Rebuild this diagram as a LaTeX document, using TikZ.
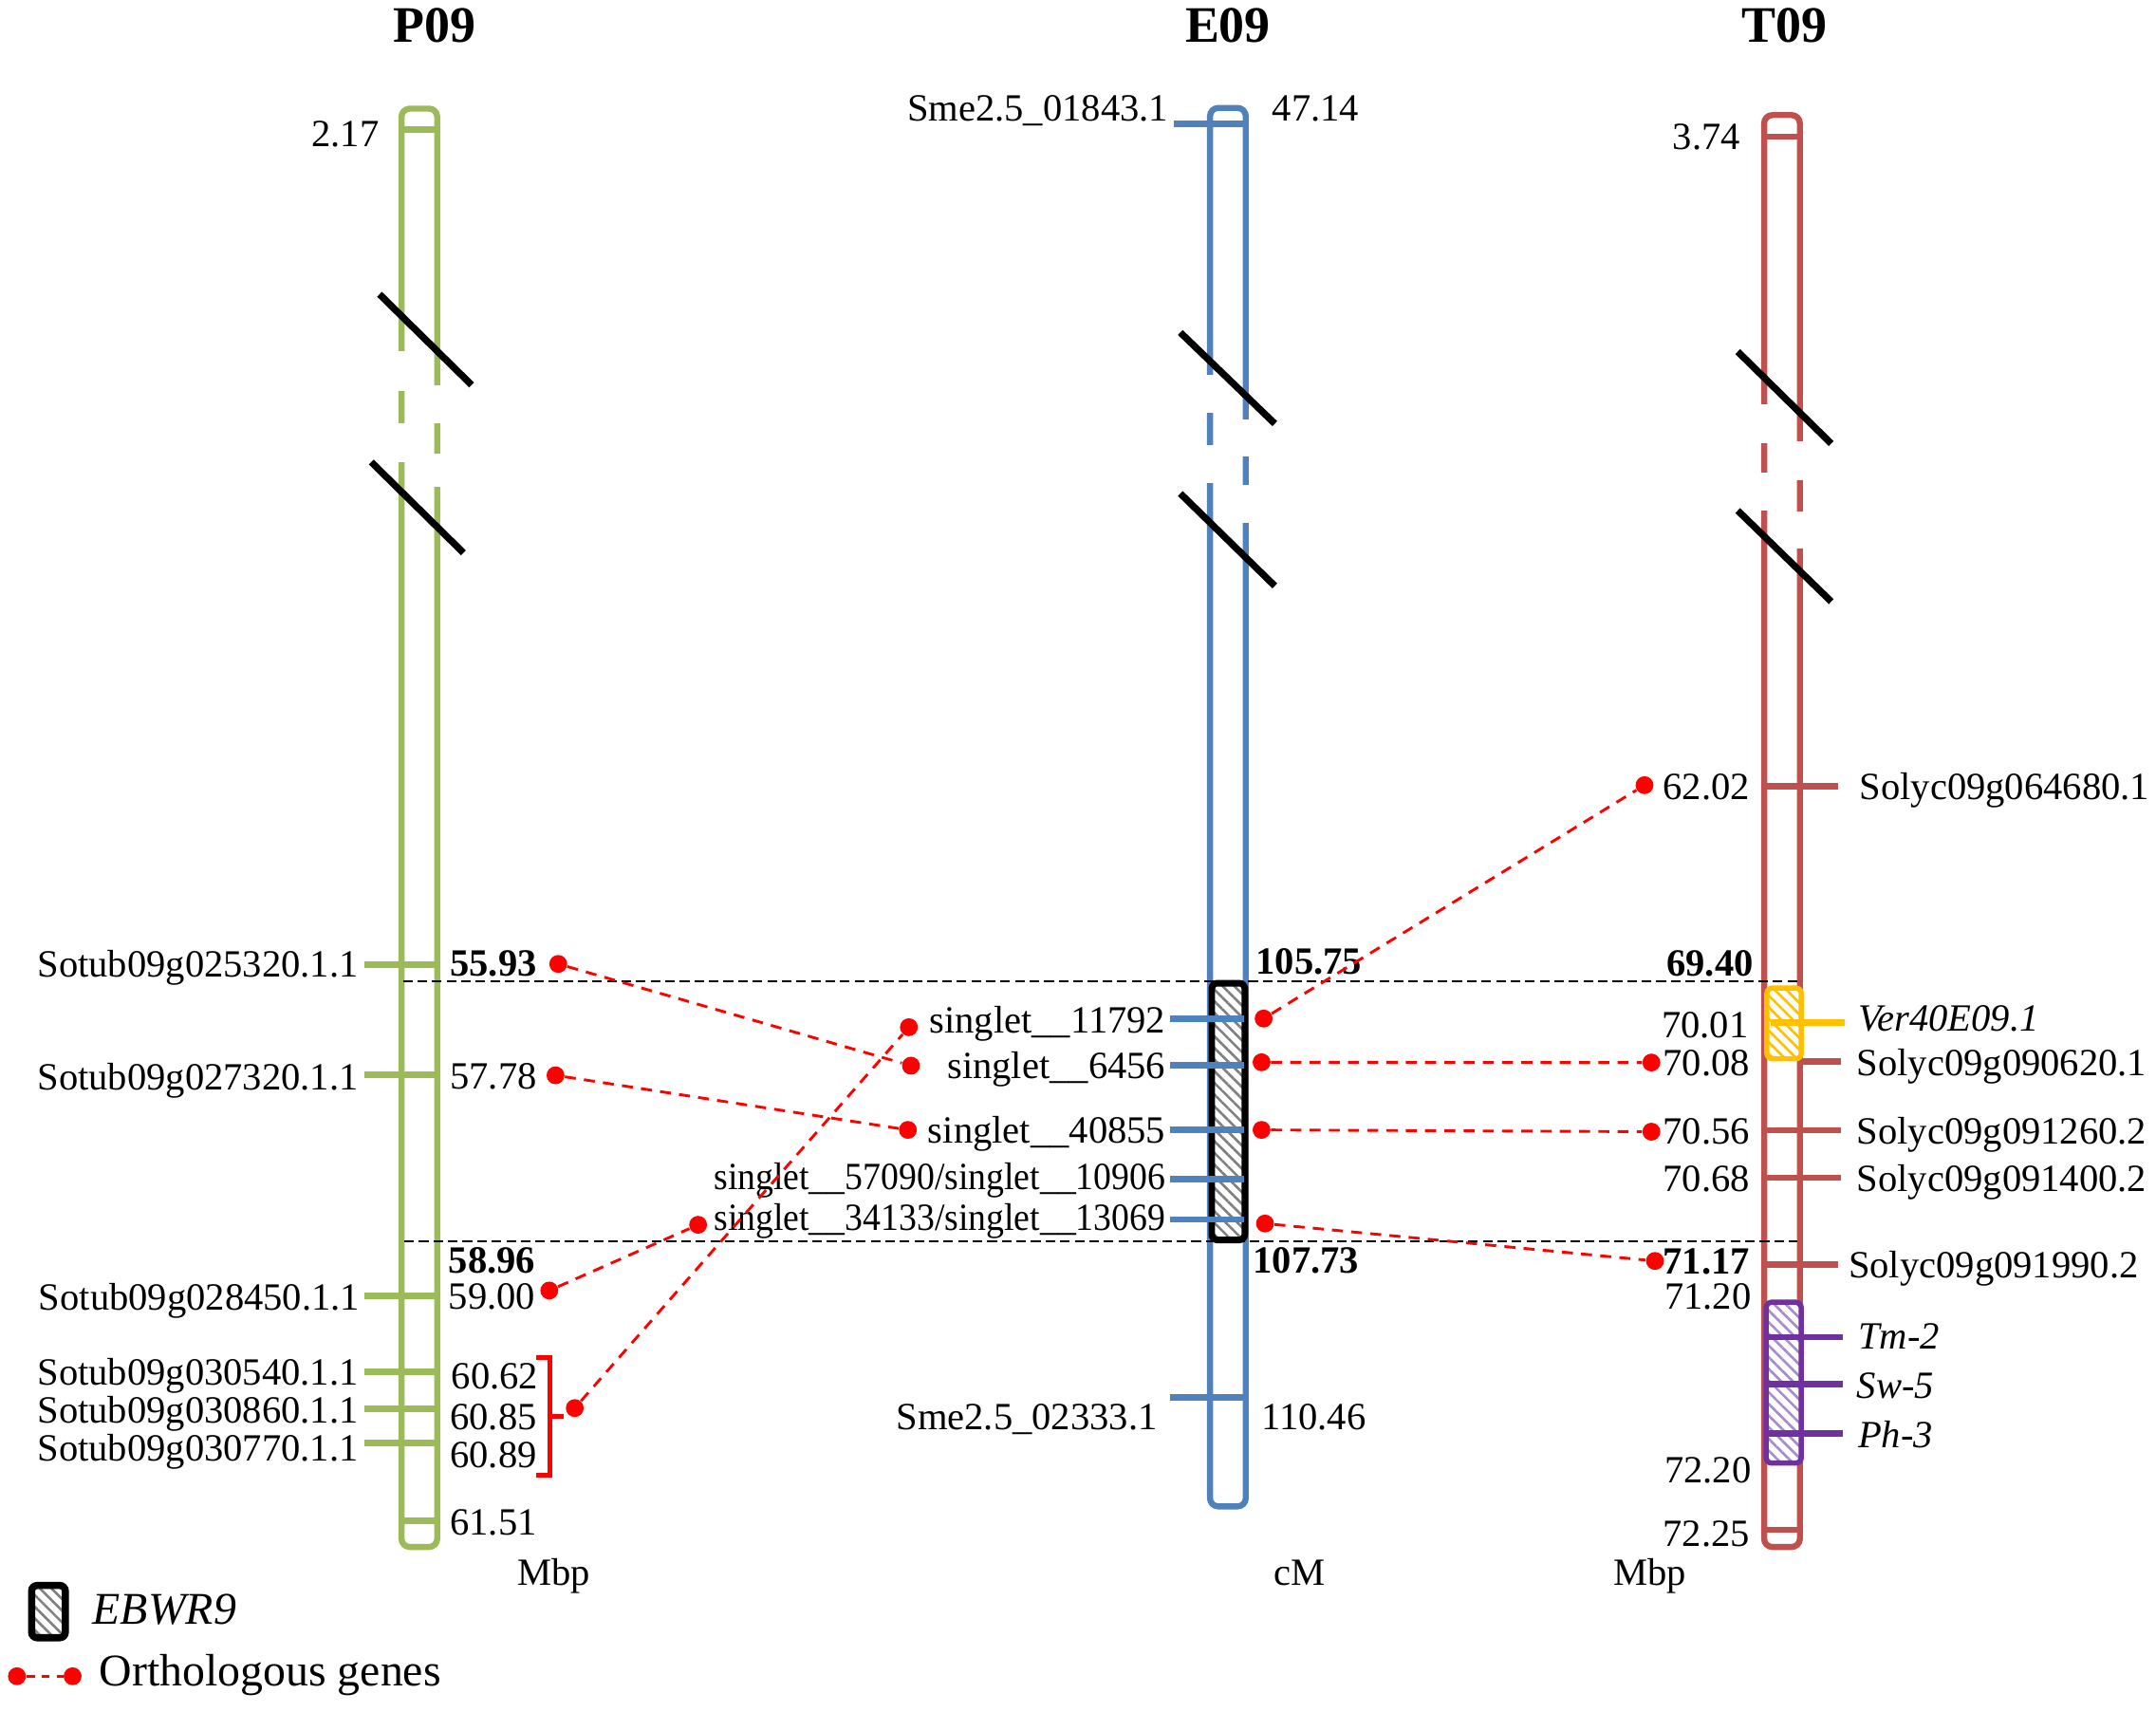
\documentclass[tikz,border=0pt]{standalone}
\usepackage{fontspec}
\setmainfont{Liberation Serif}
\usetikzlibrary{patterns.meta}
\definecolor{cgreen}{HTML}{9BBB59}
\definecolor{cblue}{HTML}{4F81BD}
\definecolor{cred}{HTML}{C0504D}
\definecolor{cpurp}{HTML}{7030A0}
\definecolor{cyel}{HTML}{FFC000}
\definecolor{cpurpl}{HTML}{A68BD0}
\begin{document}
\begin{tikzpicture}[x=0.5pt,y=-0.5pt,
 lbl/.style={font=\fontsize{14}{16}\selectfont, inner sep=0pt},
 lgd/.style={font=\fontsize{16.5}{19}\selectfont, inner sep=0pt},
 ttl/.style={font=\fontsize{18.6}{22}\selectfont\bfseries, inner sep=0pt, anchor=base},
 chrom/.style={line width=2.2pt, rounded corners=3pt},
 tickline/.style={line width=2.3pt},
 gapline/.style={draw=white, line width=3.4pt},
 slash/.style={line width=2.5pt, black},
 rdot/.style={circle, fill=red, inner sep=0pt, minimum size=6.5pt},
 rdash/.style={red, line width=1pt, dash pattern=on 4pt off 3pt},
 bdash/.style={black, line width=0.7pt, dash pattern=on 3.5pt off 1.8pt},
 hatchbox/.style={line width=2.2pt, rounded corners=2pt},
]
\useasboundingbox[fill=white] (0,0) rectangle (1568,1245);

% ---------------- titles
\node[ttl] (tP) at (316,31) {P09};
\node[ttl] (tE) at (893,31) {E09};
\node[ttl] (tT) at (1298,31) {T09};

% ---------------- chromosomes
\draw[chrom, cgreen, fill=white] (292,79) rectangle (318,1125);
\draw[chrom, cblue, fill=white] (880,78.5) rectangle (906,1095.5);
\draw[chrom, cred, fill=white] (1283,83.7) rectangle (1309,1125);

% gaps (breaks)
\draw[gapline] (292,255.6) -- (292,284.6) (292,308) -- (292,336);
\draw[gapline] (318,280.4) -- (318,308) (318,329.7) -- (318,354.3);
\draw[gapline] (880,272.7) -- (880,300.3) (880,324) -- (880,351);
\draw[gapline] (906,305) -- (906,332) (906,353) -- (906,380.6);
\draw[gapline] (1283,294) -- (1283,322) (1283,343.5) -- (1283,371);
\draw[gapline] (1309,321) -- (1309,349) (1309,372) -- (1309,398.7);

% break slashes
\draw[slash] (276,214) -- (343,280);
\draw[slash] (270,336) -- (337,402);
\draw[slash] (858.4,241.8) -- (927.1,308.1);
\draw[slash] (858.4,358.9) -- (927.1,426.1);
\draw[slash] (1263.8,255.7) -- (1331.8,322.6);
\draw[slash] (1263.8,371.3) -- (1331.8,437.5);

% ---------------- black dashed boundary lines
\draw[bdash] (293,713.6) -- (1307,713.6);
\draw[bdash] (294,902.9) -- (1307,902.9);

% ---------------- P09 ticks
\draw[tickline, cgreen] (292,94) -- (318,94);
\draw[tickline, cgreen] (292,1106) -- (318,1106);
\foreach \yy in {701.3,781.4,942.2,997.6,1024.7,1049.4}
  \draw[tickline, cgreen] (265,\yy) -- (319,\yy);

% ---------------- E09 EBWR9 box
\fill[white, rounded corners=2pt] (881.3,715) rectangle (905.3,901.7);
\fill[pattern={Lines[angle=-45,distance=3pt,line width=0.9pt]}, pattern color=gray, rounded corners=2pt] (881.3,715) rectangle (905.3,901.7);
\draw[hatchbox, black, line width=2.4pt] (881.3,715) rectangle (905.3,901.7);

% E09 ticks
\draw[tickline, cblue] (854,90) -- (906,90);
\foreach \yy in {740.7,774.8,821.7,857.4,886.8,1016}
  \draw[tickline, cblue] (851,\yy) -- (905,\yy);

% ---------------- T09 ticks
\draw[tickline, cred] (1283,99.5) -- (1309,99.5);
\draw[tickline, cred] (1283,1112.6) -- (1309,1112.6);
\draw[tickline, cred] (1283,572) -- (1337,572);
\draw[tickline, cred] (1310,772) -- (1339,772);
\draw[tickline, cred] (1283,822) -- (1339,822);
\draw[tickline, cred] (1283,856.5) -- (1339,856.5);
\draw[tickline, cred] (1283,919.6) -- (1336.5,919.6);

% yellow box
\fill[white, rounded corners=2pt] (1285,718.5) rectangle (1310,770);
\fill[pattern={Lines[angle=-45,distance=3pt,line width=0.9pt]}, pattern color=cyel, rounded corners=2pt] (1285,718.5) rectangle (1310,770);
\draw[hatchbox, cyel, line width=1.9pt] (1285,718.5) rectangle (1310,770);
\draw[tickline, cyel] (1288,743.5) -- (1341.5,743.5);

% purple box
\fill[white, rounded corners=2pt] (1284.5,947) rectangle (1310,1064);
\fill[pattern={Lines[angle=-45,distance=3pt,line width=0.9pt]}, pattern color=cpurpl, rounded corners=2pt] (1284.5,947) rectangle (1310,1064);
\draw[hatchbox, cpurp, line width=1.9pt] (1284.5,947) rectangle (1310,1064);
\foreach \yy in {972.4,1006.4,1042.4}
  \draw[tickline, cpurp] (1285,\yy) -- (1340,\yy);

% ---------------- red bracket
\draw[red, line width=1.7pt] (390,987) -- (400,987) -- (400,1073) -- (390,1073);
\draw[red, line width=1.7pt] (400,1030) -- (410,1030);

% ---------------- P09 labels
\node[lbl, anchor=base east] (p217) at (276,106.3) {2.17};
\node[lbl, anchor=base east] (pg1) at (261,710.5) {Sotub09g025320.1.1};
\node[lbl, anchor=base east] (pg2) at (261,792.7) {Sotub09g027320.1.1};
\node[lbl, anchor=base east] (pg3) at (262,952.4) {Sotub09g028450.1.1};
\node[lbl, anchor=base east] (pg4) at (261,1007) {Sotub09g030540.1.1};
\node[lbl, anchor=base east] (pg5) at (261,1034.6) {Sotub09g030860.1.1};
\node[lbl, anchor=base east] (pg6) at (261,1062.3) {Sotub09g030770.1.1};
\node[lbl, anchor=base west, font=\fontsize{14}{16}\selectfont\bfseries] (pn1) at (327,709.6) {55.93};
\node[lbl, anchor=base west] (pn2) at (327,791.8) {57.78};
\node[lbl, anchor=base west, font=\fontsize{14}{16}\selectfont\bfseries] (pn3) at (326,926) {58.96};
\node[lbl, anchor=base west] (pn4) at (326,952) {59.00};
\node[lbl, anchor=base west] (pn5) at (328,1010) {60.62};
\node[lbl, anchor=base west] (pn6) at (327,1040) {60.85};
\node[lbl, anchor=base west] (pn7) at (327,1067) {60.89};
\node[lbl, anchor=base west] (pn8) at (327,1116) {61.51};
\node[lbl, anchor=base] (pmbp) at (403,1153) {Mbp};

% ---------------- E09 labels
\node[lbl, anchor=base east] (eg0) at (850,87.8) {Sme2.5\_01843.1};
\node[lbl, anchor=base west] (en0) at (925,87.8) {47.14};
\node[lbl, anchor=base east] (eg1) at (848,751) {singlet\_\_11792};
\node[lbl, anchor=base east] (eg2) at (848,784.5) {singlet\_\_6456};
\node[lbl, anchor=base east] (eg3) at (848,831) {singlet\_\_40855};
\node[lbl, anchor=base east] (eg4) at (848,865) {\scalebox{0.93}[1]{singlet\_\_57090/singlet\_\_10906}};
\node[lbl, anchor=base east] (eg5) at (848,895) {\scalebox{0.93}[1]{singlet\_\_34133/singlet\_\_13069}};
\node[lbl, anchor=base east] (eg6) at (842,1040) {Sme2.5\_02333.1};
\node[lbl, anchor=base west, font=\fontsize{14}{16}\selectfont\bfseries] (en1) at (913,708.5) {105.75};
\node[lbl, anchor=base west, font=\fontsize{14}{16}\selectfont\bfseries] (en2) at (911,926) {107.73};
\node[lbl, anchor=base west] (en3) at (917,1039.8) {110.46};
\node[lbl, anchor=base] (ecm) at (945,1153) {cM};

% ---------------- T09 labels
\node[lbl, anchor=base east] (tn0) at (1266,108.5) {3.74};
\node[lbl, anchor=base east] (tn1) at (1273,581.5) {62.02};
\node[lbl, anchor=base east, font=\fontsize{14}{16}\selectfont\bfseries] (tn2) at (1275.5,709.6) {69.40};
\node[lbl, anchor=base east] (tn3) at (1272,754.8) {70.01};
\node[lbl, anchor=base east] (tn4) at (1273,782) {70.08};
\node[lbl, anchor=base east] (tn5) at (1273,832) {70.56};
\node[lbl, anchor=base east] (tn6) at (1273,866.7) {70.68};
\node[lbl, anchor=base east, font=\fontsize{14}{16}\selectfont\bfseries] (tn7) at (1273,926.8) {71.17};
\node[lbl, anchor=base east] (tn8) at (1274,952) {71.20};
\node[lbl, anchor=base east] (tn9) at (1274,1078.4) {72.20};
\node[lbl, anchor=base east] (tn10) at (1273,1124.6) {72.25};
\node[lbl, anchor=base] (tmbp) at (1200,1153) {Mbp};
\node[lbl, anchor=base west] (tg1) at (1352,581.5) {Solyc09g064680.1};
\node[lbl, anchor=base west, font=\fontsize{14}{16}\selectfont\itshape] (tg2) at (1351,749.5) {Ver40E09.1};
\node[lbl, anchor=base west] (tg3) at (1350,782) {Solyc09g090620.1};
\node[lbl, anchor=base west] (tg4) at (1350,832) {Solyc09g091260.2};
\node[lbl, anchor=base west] (tg5) at (1350,866.7) {Solyc09g091400.2};
\node[lbl, anchor=base west] (tg6) at (1344,929) {Solyc09g091990.2};
\node[lbl, anchor=base west, font=\fontsize{14}{16}\selectfont\itshape] (tg7) at (1351,980.7) {Tm-2};
\node[lbl, anchor=base west, font=\fontsize{14}{16}\selectfont\itshape] (tg8) at (1350,1016.7) {Sw-5};
\node[lbl, anchor=base west, font=\fontsize{14}{16}\selectfont\itshape] (tg9) at (1351,1053) {Ph-3};

% ---------------- orthologous gene dots
\node[rdot] (P1) at (406,701) {};
\node[rdot] (P2) at (404,782) {};
\node[rdot] (P3) at (399.5,938.5) {};
\node[rdot] (P4) at (418,1024) {};
\node[rdot] (EL1) at (661,747) {};
\node[rdot] (EL2) at (662.5,775) {};
\node[rdot] (EL3) at (660.3,821.7) {};
\node[rdot] (EL5) at (507.7,890.7) {};
\node[rdot] (ER1) at (919,740.7) {};
\node[rdot] (ER2) at (917.5,772.5) {};
\node[rdot] (ER3) at (917.5,821.7) {};
\node[rdot] (ER5) at (920,889.8) {};
\node[rdot] (T1) at (1196,571) {};
\node[rdot] (T2) at (1201,772.7) {};
\node[rdot] (T3) at (1201,823) {};
\node[rdot] (T5) at (1203.6,917) {};

\draw[rdash] (P1) -- (EL2);
\draw[rdash] (P2) -- (EL3);
\draw[rdash] (P3) -- (EL5);
\draw[rdash] (P4) -- (EL1);
\draw[rdash] (ER1) -- (T1);
\draw[rdash] (ER2) -- (T2);
\draw[rdash] (ER3) -- (T3);
\draw[rdash] (ER5) -- (T5);

% ---------------- legend
\fill[white, rounded corners=2pt] (23,1153) rectangle (47.5,1191);
\fill[pattern={Lines[angle=-45,distance=3pt,line width=0.9pt]}, pattern color=gray, rounded corners=2pt] (23,1153) rectangle (47.5,1191);
\draw[hatchbox, black, line width=2.6pt] (23,1153) rectangle (47.5,1191);
\node[lgd, anchor=base west, font=\fontsize{16.5}{19}\selectfont\itshape] (lg1) at (67,1181.3) {EBWR9};
\node[rdot] (LD1) at (12.3,1219) {};
\node[rdot] (LD2) at (52.8,1219) {};
\draw[rdash, dash pattern=on 3pt off 2.5pt] (LD1) -- (LD2);
\node[lgd, anchor=base west] (lg2) at (72,1226.2) {Orthologous genes};
\end{tikzpicture}
\end{document}
